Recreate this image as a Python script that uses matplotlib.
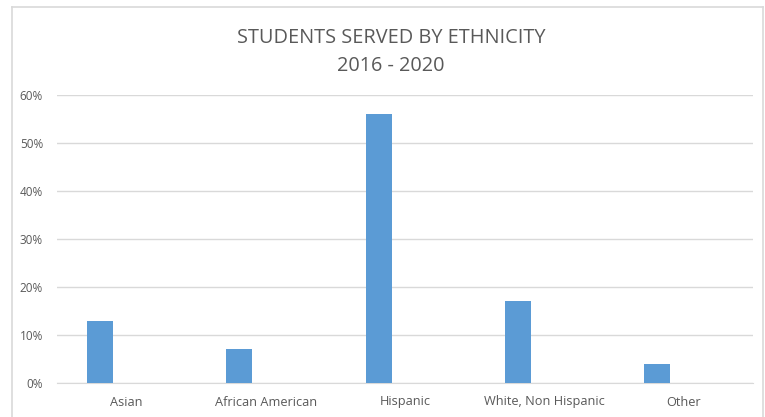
import matplotlib
matplotlib.use("Agg")
import matplotlib.pyplot as plt
from matplotlib.lines import Line2D
from matplotlib.ticker import PercentFormatter

categories = ["Asian", "African American", "Hispanic", "White, Non Hispanic", "Other"]
values = [13, 7, 56, 17, 4]
yticks = [0, 10, 20, 30, 40, 50, 60]
title = "STUDENTS SERVED BY ETHNICITY\n2016 - 2020"

plt.rcParams['font.family'] = ['Open Sans', 'DejaVu Sans']
W, H = 765, 417
fig = plt.figure(figsize=(W / 100, H / 100), dpi=100)
fig.patch.set_facecolor("white")

# chart border
bx0, bx1, by0 = 12 / W, 763 / W, 1 - 7 / H
for xs, ys in [([bx0, bx1], [by0, by0]), ([bx0, bx0], [0, by0]), ([bx1, bx1], [0, by0])]:
    fig.add_artist(Line2D(xs, ys, color="#d9d9d9", lw=1.2, transform=fig.transFigure))

left, right = 57 / W, 753 / W
bottom, top = 1 - 383 / H, 1 - 95 / H
ax = fig.add_axes([left, bottom, right - left, top - bottom])

x = list(range(len(categories)))
ax.bar([i - 0.19 for i in x], values, width=0.187, color="#5b9bd5", zorder=3)

ax.set_xlim(-0.5, len(categories) - 0.5)
ax.set_ylim(0, 60)
ax.set_yticks(yticks)
ax.yaxis.set_major_formatter(PercentFormatter(decimals=0))
ax.set_xticks(x)
ax.set_xticklabels(categories)
ax.grid(axis="y", color="#d9d9d9", lw=1, zorder=0)
for s in ax.spines.values():
    s.set_visible(False)
ax.spines["bottom"].set_visible(True)
ax.spines["bottom"].set_color("#d9d9d9")
ax.tick_params(axis="both", length=0, colors="#595959")
ax.tick_params(axis="y", pad=10, labelsize=8.5)
ax.tick_params(axis="x", pad=9, labelsize=9.2)

fig.text(391 / W, 1 - 52 / H, title, ha="center", va="center", fontsize=14.3,
         color="#595959", linespacing=1.55)

fig.savefig("out.png", dpi=100)
